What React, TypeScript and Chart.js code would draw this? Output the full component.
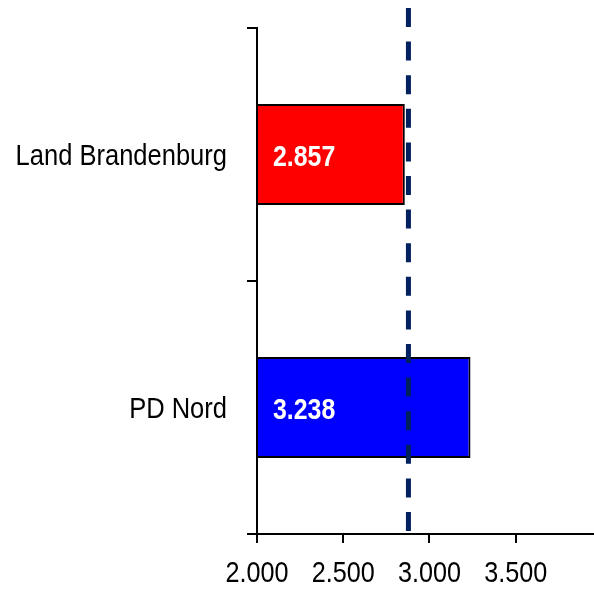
import React, { useEffect, useRef } from 'react';
import { Chart, registerables } from 'chart.js';

Chart.register(...registerables);

const categories = ['Land Brandenburg', 'PD Nord'];
const values = [2857, 3238];
const barColors = ['#ff0000', '#0000ff'];
const referenceValue = 2878;
const axisMin = 2000;
const axisMax = 3954;
const xTickValues = [2000, 2500, 3000, 3500];

const FONT = "'Liberation Sans', Arial, sans-serif";

function fmt(v: number): string {
  return Math.round(v).toString().replace(/\B(?=(\d{3})+(?!\d))/g, '.');
}

function narrowText(ctx: any, text: string, x: number, y: number, font: string, k: number, align: string) {
  ctx.save();
  ctx.font = font;
  ctx.textAlign = align;
  ctx.textBaseline = 'alphabetic';
  ctx.translate(x, y);
  ctx.scale(k, 1);
  ctx.fillText(text, 0, 0);
  ctx.restore();
}

const refLinePlugin = {
  id: 'refLine',
  afterDatasetsDraw(chart: any) {
    const { ctx, chartArea, scales } = chart;
    const x = scales.x.getPixelForValue(referenceValue);
    ctx.save();
    ctx.strokeStyle = '#002060';
    ctx.lineWidth = 5;
    ctx.setLineDash([19, 14.6]);
    ctx.beginPath();
    ctx.moveTo(x, 8);
    ctx.lineTo(x, chartArea.bottom - 2);
    ctx.stroke();
    ctx.restore();
  },
};

const textPlugin = {
  id: 'narrowLabels',
  afterDraw(chart: any) {
    const { ctx, chartArea, scales } = chart;
    const meta = chart.getDatasetMeta(0);
    // bar value labels
    ctx.save();
    ctx.fillStyle = '#ffffff';
    meta.data.forEach((el: any, i: number) => {
      narrowText(ctx, fmt(values[i]), chartArea.left + 16, el.y + 11, `bold 30px ${FONT}`, 0.83, 'left');
    });
    ctx.restore();
    // category labels
    ctx.save();
    ctx.fillStyle = '#000000';
    categories.forEach((c, i) => {
      const y = scales.y.getPixelForTick(i);
      narrowText(ctx, c, chartArea.left - 30, y + 10, `29px ${FONT}`, 0.88, 'right');
    });
    // x tick labels
    xTickValues.forEach((v) => {
      const x = scales.x.getPixelForValue(v);
      narrowText(ctx, fmt(v), x, chartArea.bottom + 48, `30px ${FONT}`, 0.84, 'center');
    });
    ctx.restore();
  },
};

export default function App() {
  const ref = useRef<HTMLCanvasElement | null>(null);
  useEffect(() => {
    if (!ref.current) return;
    const chart = new Chart(ref.current, {
      type: 'bar',
      data: {
        labels: categories,
        datasets: [
          {
            data: values,
            backgroundColor: barColors,
            borderColor: '#000000',
            borderWidth: 2,
            base: axisMin,
            barPercentage: 0.4,
            categoryPercentage: 1,
          } as any,
        ],
      },
      options: {
        indexAxis: 'y',
        responsive: false,
        animation: false,
        layout: { padding: { top: 28, right: 0, left: 0, bottom: 0 } },
        plugins: { legend: { display: false }, tooltip: { enabled: false } },
        scales: {
          y: {
            type: 'category',
            grid: { drawOnChartArea: false, tickLength: 10, color: '#000', lineWidth: 2, offset: true },
            border: { color: '#000', width: 2 },
            ticks: { color: 'rgba(0,0,0,0)', font: { family: FONT, size: 12 }, padding: 20 },
            afterFit: (s: any) => { s.width = 257; },
          },
          x: {
            type: 'linear',
            min: axisMin,
            max: axisMax,
            grid: { drawOnChartArea: false, tickLength: 9, color: '#000', lineWidth: 2 },
            border: { color: '#000', width: 2 },
            ticks: {
              color: 'rgba(0,0,0,0)',
              font: { family: FONT, size: 12 },
              padding: 8,
              maxRotation: 0,
              autoSkip: false,
              callback: (v: any) => fmt(Number(v)),
            },
            afterBuildTicks: (s: any) => { s.ticks = xTickValues.map((v) => ({ value: v })); },
            afterFit: (s: any) => { s.height = 55; },
          },
        },
      } as any,
      plugins: [refLinePlugin, textPlugin],
    });
    return () => chart.destroy();
  }, []);
  return (
    <div style={{ position: 'fixed', left: 0, top: 0, width: 594, height: 589, background: '#fff' }}>
      <canvas ref={ref} width={594} height={589} style={{ display: 'block' }} />
    </div>
  );
}
